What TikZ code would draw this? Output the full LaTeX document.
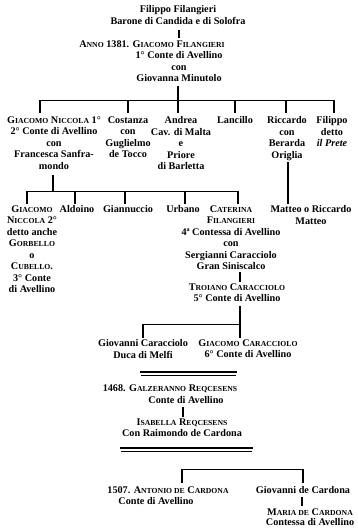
\documentclass[tikz,border=0pt]{standalone}
\usepackage{fontspec}
\setmainfont{Liberation Serif}
\newcommand\sca[1]{{\fontsize{7.7}{8}\selectfont\MakeUppercase{#1}}}
\begin{document}
\begin{tikzpicture}[x=1pt,y=-1pt,
  txt/.style={inner sep=0pt, align=center, anchor=north, font=\bfseries\fontsize{10.2}{11.5}\selectfont},
  vbar/.style={line width=2.4pt},
  hbar/.style={line width=0.9pt},
  rulebar/.style={line width=1.8pt},
  rulethin/.style={line width=0.6pt}]
\useasboundingbox (0,0) rectangle (358,528);
\fill[white] (0,0) rectangle (358,528);
% top
\node[txt] (fil) at (178,5.5) {Filippo Filangieri\\Barone di Candida e di Solofra};
\node[txt] (gf1) at (152,40.5) {A\sca{nno} 1381. G\sca{iacomo} F\sca{ilangieri}};
\node[txt] (gf2) at (179,51.5) {1° Conte di Avellino\\con\\Giovanna Minutolo};
\coordinate (v1a) at (179,30); \coordinate (v1b) at (179,38);
\draw[vbar] (v1a) -- (v1b);
\coordinate (v2a) at (178,86); \coordinate (v2b) at (178,100);
\draw[vbar] (v2a) -- (v2b);
% row 1
\node[txt] (gn1) at (54,116.5) {G\sca{iacomo} N\sca{iccola} 1°\\2° Conte di Avellino\\con\\Francesca Sanfra-\\mondo};
\node[txt] (cos) at (128,116.5) {Costanza\\con\\Guglielmo\\de Tocco};
\node[txt] (and) at (181,116.5) {Andrea\\Cav. di Malta\\e\\Priore\\di Barletta};
\node[txt] (lan) at (235,116.5) {Lancillo};
\node[txt] (ric) at (287,116.5) {Riccardo\\con\\Berarda\\Origlia};
\node[txt] (fip) at (332,116.5) {Filippo\\detto\\{\itshape il Prete}};
\coordinate (h1l) at (40,100); \coordinate (h1r) at (334,100);
\draw[hbar] (h1l) -- (h1r);
\foreach \x in {40,128,178,235,286,334}{\draw[vbar] (\x,100) -- (\x,113);}
% row 2
\coordinate (v3a) at (53,175); \coordinate (v3b) at (53,191);
\draw[vbar] (v3a) -- (v3b);
\coordinate (h2l) at (27,191); \coordinate (h2r) at (238,191);
\draw[hbar] (h2l) -- (h2r);
\foreach \x in {27,75,125,185,238}{\draw[vbar] (\x,191) -- (\x,204);}
\coordinate (v4a) at (288,162); \coordinate (v4b) at (288,204);
\draw[vbar] (v4a) -- (v4b);
\node[txt] (gn2) at (32,205.5) {G\sca{iacomo}\\N\sca{iccola} 2°\\detto anche\\G\sca{orbello}\\o\\C\sca{ubello}.\\3° Conte\\di Avellino};
\node[txt] (ald) at (77,205.5) {Aldoino};
\node[txt] (gia) at (128,205.5) {Giannuccio};
\node[txt] (urb) at (183,205.5) {Urbano};
\node[txt] (cat) at (231,205.5) {C\sca{aterina}\\F\sca{ilangieri}\\4ª Contessa di Avellino\\con\\Sergianni Caracciolo\\Gran Siniscalco};
\node[txt] (mat) at (311,205.5) {Matteo o Riccardo\\Matteo};
% Troiano
\coordinate (v5a) at (240,272); \coordinate (v5b) at (240,282);
\draw[vbar] (v5a) -- (v5b);
\node[txt] (tro) at (237,283.5) {T\sca{roiano} C\sca{aracciolo}\\5° Conte di Avellino};
\coordinate (v6a) at (240,306); \coordinate (v6b) at (240,338);
\draw[vbar] (v6a) -- (v6b);
\coordinate (h3l) at (143,324); \coordinate (h3r) at (240,324);
\draw[hbar] (h3l) -- (h3r);
\draw[vbar] (143,324) -- (143,338);
\node[txt] (gc1) at (143,339.5) {Giovanni Caracciolo\\Duca di Melfi};
\node[txt] (gc2) at (248,339.5) {G\sca{iacomo} C\sca{aracciolo}\\6° Conte di Avellino};
% rule 1
\coordinate (r1l) at (140,372); \coordinate (r1r) at (237,372);
\draw[rulebar] (r1l) -- (r1r);
\draw[rulethin] (141,375) -- (236,375);
% Galzeranno
\node[txt] (gal) at (170,384.5) {1468. G\sca{alzeranno} R\sca{eqcesens}};
\node[txt] (galc) at (186,396.5) {Conte di Avellino};
\coordinate (v7a) at (183,407); \coordinate (v7b) at (183,417);
\draw[vbar] (v7a) -- (v7b);
\node[txt] (isa) at (182,418.5) {I\sca{sabella} R\sca{eqcesens}\\Con Raimondo de Cardona};
% rule 2
\coordinate (r2l) at (120,448); \coordinate (r2r) at (253,448);
\draw[rulebar] (r2l) -- (r2r);
\draw[rulethin] (121,451) -- (252,451);
% Cardona
\coordinate (h4l) at (182,469); \coordinate (h4r) at (303,469);
\draw[hbar] (h4l) -- (h4r);
\draw[vbar] (182,469) -- (182,483);
\draw[vbar] (303,469) -- (303,483);
\node[txt] (ant) at (168,486.5) {1507. A\sca{ntonio de} C\sca{ardona}};
\node[txt] (antc) at (156,497.5) {Conte di Avellino};
\node[txt] (gio) at (303,486.5) {Giovanni de Cardona};
\coordinate (v8a) at (302,497); \coordinate (v8b) at (302,506);
\draw[vbar] (v8a) -- (v8b);
\node[txt, font=\bfseries\fontsize{10.2}{10.2}\selectfont] (mar) at (310,508.5) {M\sca{aria de} C\sca{ardona}\\Contessa di Avellino};
\end{tikzpicture}
\end{document}
